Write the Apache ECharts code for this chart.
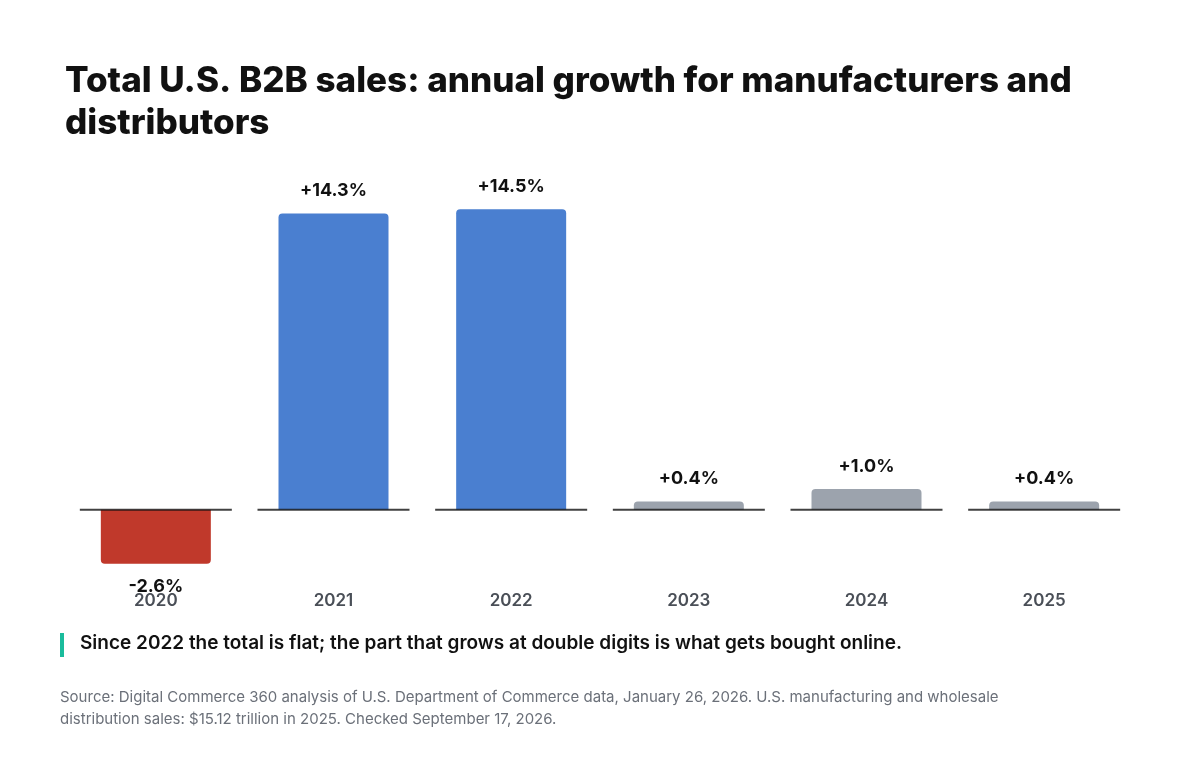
<!DOCTYPE html><html><head><meta charset="utf-8"><script src="https://cdn.jsdelivr.net/npm/echarts@6/dist/echarts.min.js"></script>
<style>body{margin:0;background:#fff}#c{width:1200px;height:780px}</style></head><body><div id="c"></div><script>
const categories=['2020','2021','2022','2023','2024','2025'];
const values=[-2.6,14.3,14.5,0.4,1.0,0.4];
const colors=['#c0392b','#4a7fd0','#4a7fd0','#9ca3ad','#9ca3ad','#9ca3ad'];
const F='Inter, "Noto Sans", sans-serif';
const ch=echarts.init(document.getElementById('c'));
ch.setOption({
 backgroundColor:'#fff',
 title:{text:'Total U.S. B2B sales: annual growth for manufacturers and\ndistributors',left:60,top:55,textStyle:{fontFamily:F,fontSize:35,fontWeight:800,color:'#111',lineHeight:42}},
 graphic:[
  {type:'rect',left:60,top:633,shape:{width:4,height:24},style:{fill:'#1abc9c'}},
  {type:'text',left:80,top:634,style:{text:'Since 2022 the total is flat; the part that grows at double digits is what gets bought online.',font:'600 19px '+F,fill:'#111'}},
  {type:'text',left:60,top:686,style:{text:'Source: Digital Commerce 360 analysis of U.S. Department of Commerce data, January 26, 2026. U.S. manufacturing and wholesale\ndistribution sales: $15.12 trillion in 2025. Checked September 17, 2026.',font:'15px '+F,fill:'#6b7079',lineHeight:22}}
 ],
 grid:{left:67,right:67,top:199,bottom:208},
 xAxis:{type:'category',data:categories,axisLine:{show:false},axisTick:{show:false},axisLabel:{margin:20,fontFamily:F,fontSize:17,fontWeight:600,color:'#4a4f57'}},
 yAxis:{type:'value',min:-3,max:15,show:false,splitLine:{show:false}},
 series:[
  {type:'bar',barWidth:110,data:values.map((v,i)=>({value:v,itemStyle:{color:colors[i],borderRadius:v<0?[0,0,4,4]:[4,4,0,0]},label:{position:v<0?'bottom':'top'}})),
   label:{show:true,distance:14,formatter:p=>(p.value>0?'+':'')+p.value.toFixed(1)+'%',fontFamily:F,fontSize:18,fontWeight:700,color:'#111'}},
  {type:'scatter',data:categories.map(()=>0),symbol:'rect',symbolSize:[152,2],itemStyle:{color:'#111'},silent:true,z:5}
 ]
});
</script></body></html>
